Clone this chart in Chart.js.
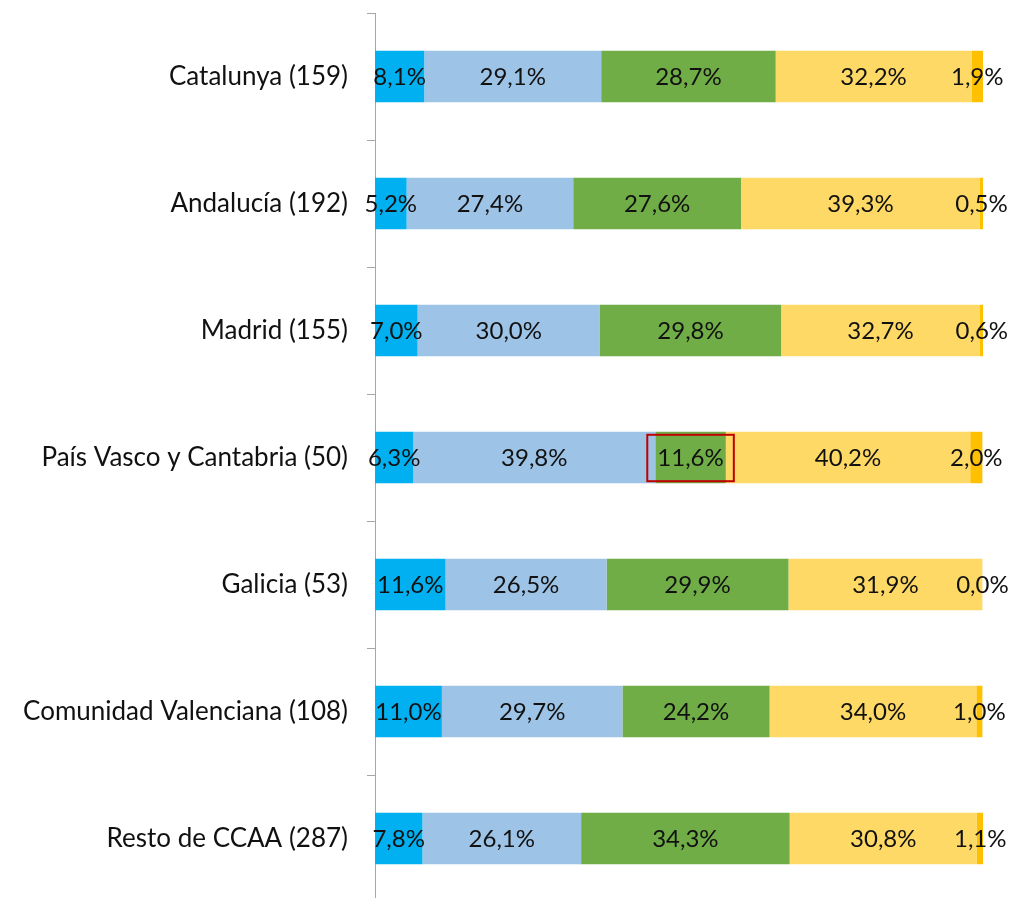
<!DOCTYPE html>
<html>
<head>
<meta charset="utf-8">
<script src="https://cdn.jsdelivr.net/npm/chart.js@4.4.0/dist/chart.umd.min.js"></script>
<style>
  html, body { margin: 0; padding: 0; background: #fff; overflow: hidden; }
  #wrap { position: absolute; left: 0; top: 0; width: 1015px; height: 903px; }
</style>
</head>
<body>
<div id="wrap"><canvas id="c" width="1015" height="903"></canvas></div>
<script>
const categories = [
  'Catalunya (159)',
  'Andalucía (192)',
  'Madrid (155)',
  'País Vasco y Cantabria (50)',
  'Galicia (53)',
  'Comunidad Valenciana (108)',
  'Resto de CCAA (287)'
];
const seriesNames = ['Serie 1', 'Serie 2', 'Serie 3', 'Serie 4', 'Serie 5'];
const serie1 = [8.1, 5.2, 7.0, 6.3, 11.6, 11.0, 7.8];
const serie2 = [29.1, 27.4, 30.0, 39.8, 26.5, 29.7, 26.1];
const serie3 = [28.7, 27.6, 29.8, 11.6, 29.9, 24.2, 34.3];
const serie4 = [32.2, 39.3, 32.7, 40.2, 31.9, 34.0, 30.8];
const serie5 = [1.9, 0.5, 0.6, 2.0, 0.0, 1.0, 1.1];
const seriesColors = ['#00B0F0', '#9DC3E6', '#70AD47', '#FFD966', '#FFC000'];
const highlightSeries = 2;
const highlightCategory = 3;

const FONT = 'Lato, "Open Sans", sans-serif';

const labelPlugin = {
  id: 'segLabels',
  afterDatasetsDraw(chart) {
    const ctx = chart.ctx;
    ctx.save();
    ctx.font = '24px ' + FONT;
    ctx.fillStyle = '#111111';
    ctx.textAlign = 'center';
    ctx.textBaseline = 'middle';
    chart.data.datasets.forEach((ds, di) => {
      const meta = chart.getDatasetMeta(di);
      meta.data.forEach((el, i) => {
        const v = ds.data[i];
        const txt = v.toFixed(1).replace('.', ',') + '%';
        ctx.fillText(txt, (el.x + el.base) / 2, el.y + 1);
      });
    });
    ctx.restore();
  }
};

const boxPlugin = {
  id: 'highlightBox',
  afterDraw(chart) {
    const el = chart.getDatasetMeta(highlightSeries).data[highlightCategory];
    if (!el) return;
    const ctx = chart.ctx;
    ctx.save();
    ctx.strokeStyle = '#C00000';
    ctx.lineWidth = 2;
    const l = Math.min(el.base, el.x) - 8;
    const r = Math.max(el.base, el.x) + 8;
    const t = el.y - el.height / 2 + 3;
    const b = el.y + el.height / 2 - 2;
    ctx.strokeRect(l, t, r - l, b - t);
    ctx.restore();
  }
};

const seriesData = [serie1, serie2, serie3, serie4, serie5];

new Chart(document.getElementById('c'), {
  type: 'bar',
  data: {
    labels: categories,
    datasets: seriesData.map((d, i) => ({
      label: seriesNames[i],
      data: d,
      backgroundColor: seriesColors[i],
      borderWidth: 0,
      categoryPercentage: 1,
      barPercentage: 0.405
    }))
  },
  options: {
    indexAxis: 'y',
    responsive: false,
    animation: false,
    layout: { padding: { top: 13, right: 32, bottom: 1, left: 0 } },
    plugins: { legend: { display: false }, tooltip: { enabled: false } },
    scales: {
      x: { stacked: true, min: 0, max: 100, display: false },
      y: {
        stacked: true,
        afterFit(scale) { scale.width = 375; scale.paddingTop = 0; scale.paddingBottom = 0; },
        grid: { display: true, drawOnChartArea: false, drawTicks: true, tickLength: 8, color: '#A6A6A6', offset: true },
        border: { display: true, color: '#A6A6A6', width: 1 },
        ticks: { padding: 19, color: '#111111', font: { family: FONT, size: 26 } }
      }
    }
  },
  plugins: [labelPlugin, boxPlugin]
});
</script>
</body>
</html>
